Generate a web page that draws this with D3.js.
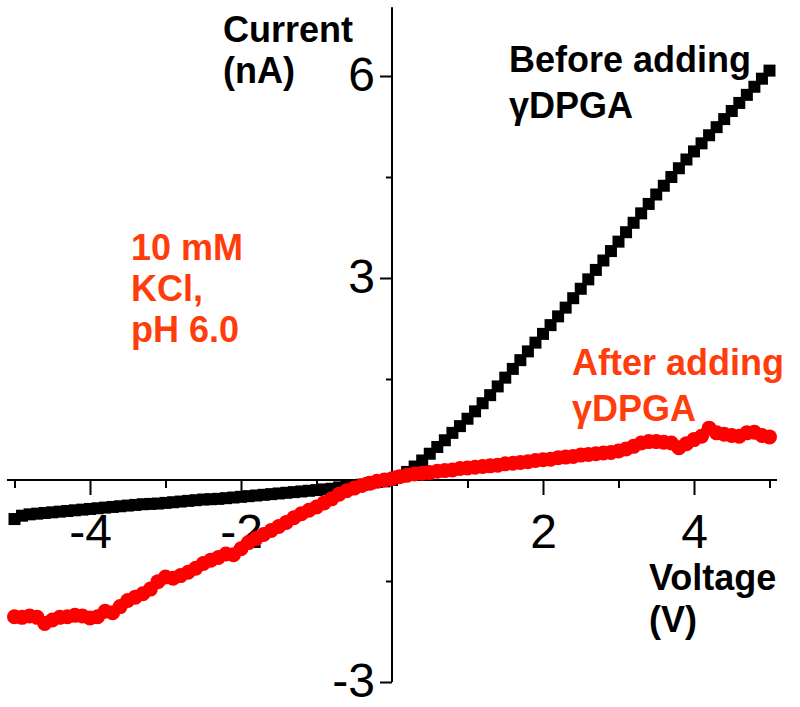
<!DOCTYPE html>
<html>
<head>
<meta charset="utf-8">
<script src="https://cdn.jsdelivr.net/npm/d3@7"></script>
<style>
  html, body { margin: 0; padding: 0; background: #fff; }
  svg { display: block; }
  text { font-family: "Liberation Sans", Arial, sans-serif; }
</style>
</head>
<body>
<svg id="chart" width="800" height="707"></svg>
<script>
// ---- data ----
const voltage = [
  -5.0,-4.9,-4.8,-4.7,-4.6,-4.5,-4.4,-4.3,-4.2,-4.1,
  -4.0,-3.9,-3.8,-3.7,-3.6,-3.5,-3.4,-3.3,-3.2,-3.1,
  -3.0,-2.9,-2.8,-2.7,-2.6,-2.5,-2.4,-2.3,-2.2,-2.1,
  -2.0,-1.9,-1.8,-1.7,-1.6,-1.5,-1.4,-1.3,-1.2,-1.1,
  -1.0,-0.9,-0.8,-0.7,-0.6,-0.5,-0.4,-0.3,-0.2,-0.1,
   0.0, 0.1, 0.2, 0.3, 0.4, 0.5, 0.6, 0.7, 0.8, 0.9,
   1.0, 1.1, 1.2, 1.3, 1.4, 1.5, 1.6, 1.7, 1.8, 1.9,
   2.0, 2.1, 2.2, 2.3, 2.4, 2.5, 2.6, 2.7, 2.8, 2.9,
   3.0, 3.1, 3.2, 3.3, 3.4, 3.5, 3.6, 3.7, 3.8, 3.9,
   4.0, 4.1, 4.2, 4.3, 4.4, 4.5, 4.6, 4.7, 4.8, 4.9,
   5.0
];
const currentBefore = [
  -0.58,-0.53,-0.51,-0.50,-0.49,-0.48,-0.47,-0.46,-0.45,-0.44,
  -0.43,-0.42,-0.41,-0.40,-0.39,-0.38,-0.37,-0.36,-0.355,-0.35,
  -0.34,-0.33,-0.32,-0.31,-0.30,-0.29,-0.285,-0.28,-0.27,-0.26,
  -0.25,-0.24,-0.23,-0.22,-0.21,-0.20,-0.19,-0.18,-0.17,-0.16,
  -0.15,-0.14,-0.13,-0.11,-0.10,-0.08,-0.07,-0.05,-0.03,-0.02,
   0.00, 0.05, 0.12, 0.20, 0.29, 0.39, 0.49, 0.59, 0.70, 0.80,
   0.91, 1.02, 1.14, 1.26, 1.39, 1.52, 1.65, 1.78, 1.91, 2.04,
   2.17, 2.30, 2.43, 2.56, 2.70, 2.84, 2.98, 3.12, 3.26, 3.40,
   3.54, 3.68, 3.82, 3.96, 4.10, 4.24, 4.37, 4.50, 4.63, 4.76,
   4.88, 5.00, 5.12, 5.24, 5.36, 5.48, 5.60, 5.72, 5.84, 5.96,
   6.08
];
const currentAfter = [
  -2.03,-2.04,-2.02,-2.04,-2.13,-2.08,-2.04,-2.03,-2.01,-2.02,
  -2.05,-2.03,-1.95,-1.97,-1.88,-1.79,-1.74,-1.69,-1.62,-1.51,
  -1.44,-1.46,-1.42,-1.37,-1.31,-1.24,-1.19,-1.15,-1.10,-1.11,
  -1.02,-0.93,-0.87,-0.81,-0.75,-0.69,-0.63,-0.56,-0.50,-0.45,
  -0.40,-0.34,-0.28,-0.21,-0.16,-0.12,-0.08,-0.05,-0.02, 0.00,
   0.02, 0.05, 0.07, 0.09, 0.10, 0.11, 0.13, 0.14, 0.15, 0.17,
   0.18, 0.19, 0.20, 0.21, 0.22, 0.24, 0.25, 0.26, 0.27, 0.29,
   0.30, 0.31, 0.33, 0.34, 0.35, 0.37, 0.38, 0.39, 0.40, 0.41,
   0.43, 0.46, 0.50, 0.55, 0.57, 0.57, 0.56, 0.55, 0.48, 0.54,
   0.60, 0.65, 0.77, 0.70, 0.68, 0.66, 0.65, 0.70, 0.71, 0.66,
   0.64
];
const xMajorTicks = [-4, -2, 2, 4];
const xMinorTicks = [-5, -3, -1, 1, 3, 5];
const yMajorTicks = [6, 3, -3];
const yMinorTicks = [4.5, 1.5, -1.5];
const xTickLabels = ["-4", "-2", "2", "4"];
const yTickLabels = ["6", "3", "-3"];

// ---- chart ----
const svg = d3.select("#chart");
const x = d3.scaleLinear().domain([-5, 5]).range([14.5, 769.5]);
const y = d3.scaleLinear().domain([-3, 6]).range([682, 76]);
const RED_TEXT = "#ff3c0c";

// x axis (through y = 0)
const xAxisMajor = d3.axisBottom(x).tickValues(xMajorTicks)
  .tickSize(15).tickPadding(19)
  .tickFormat((d, i) => xTickLabels[i]);
const gx = svg.append("g").attr("transform", `translate(0,${y(0)})`).call(xAxisMajor);
gx.select(".domain").remove();
gx.selectAll("line").attr("stroke", "#000").attr("stroke-width", 2);
gx.selectAll("text").attr("font-size", 48).attr("fill", "#000")
  .attr("dy", "0.71em");

const gxm = svg.append("g").attr("transform", `translate(0,${y(0)})`)
  .call(d3.axisBottom(x).tickValues(xMinorTicks).tickSize(8).tickFormat(""));
gxm.select(".domain").remove();
gxm.selectAll("line").attr("stroke", "#000").attr("stroke-width", 2);

svg.append("line")
  .attr("x1", x(-5.1)).attr("x2", x(5.1))
  .attr("y1", y(0)).attr("y2", y(0))
  .attr("stroke", "#000").attr("stroke-width", 2);

// y axis (through x = 0)
const gy = svg.append("g").attr("transform", `translate(${x(0)},0)`)
  .call(d3.axisLeft(y).tickValues(yMajorTicks).tickSize(12).tickPadding(5)
    .tickFormat((d, i) => yTickLabels[i]));
gy.select(".domain").remove();
gy.selectAll("line").attr("stroke", "#000").attr("stroke-width", 2);
gy.selectAll("text").attr("font-size", 48).attr("fill", "#000").attr("dy", "0.3em");

const gym = svg.append("g").attr("transform", `translate(${x(0)},0)`)
  .call(d3.axisLeft(y).tickValues(yMinorTicks).tickSize(6).tickFormat(""));
gym.select(".domain").remove();
gym.selectAll("line").attr("stroke", "#000").attr("stroke-width", 2);

svg.append("line")
  .attr("x1", x(0)).attr("x2", x(0))
  .attr("y1", y(7.02)).attr("y2", y(-3))
  .attr("stroke", "#000").attr("stroke-width", 2);

// series: before (black squares)
const sq = 12;
svg.append("g").selectAll("rect")
  .data(voltage.map((v, i) => [v, currentBefore[i]]))
  .join("rect")
  .attr("x", d => x(d[0]) - sq / 2)
  .attr("y", d => y(d[1]) - sq / 2)
  .attr("width", sq).attr("height", sq)
  .attr("fill", "#000");

// series: after (red circles)
svg.append("g").selectAll("circle")
  .data(voltage.map((v, i) => [v, currentAfter[i]]))
  .join("circle")
  .attr("cx", d => x(d[0]))
  .attr("cy", d => y(d[1]))
  .attr("r", 7.5)
  .attr("fill", "#ff0000");

// text annotations
function label(lines, xPos, y0, dy, color) {
  const t = svg.append("text")
    .attr("font-size", 36).attr("font-weight", "bold").attr("fill", color);
  lines.forEach((s, i) => {
    t.append("tspan").attr("x", xPos).attr("y", y0 + i * dy).text(s);
  });
}
label(["Current", "(nA)"], 223, 42, 41, "#000");
label(["Voltage", "(V)"], 649, 590, 42, "#000");
label(["Before adding", "\u03b3DPGA"], 509, 72, 46, "#000");
label(["After adding", "\u03b3DPGA"], 572, 375, 46, RED_TEXT);
label(["10 mM", "KCl,", "pH 6.0"], 131, 260, 41, RED_TEXT);
</script>
</body>
</html>
